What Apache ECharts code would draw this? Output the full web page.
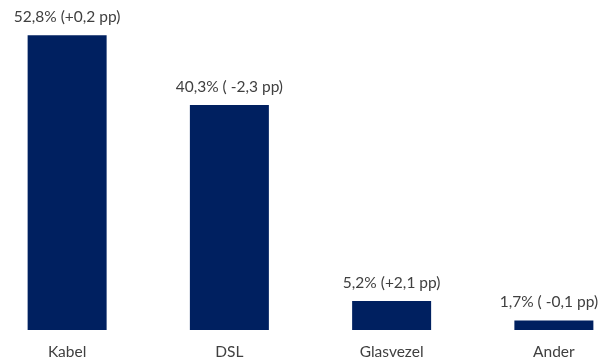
<!DOCTYPE html>
<html><head><meta charset="utf-8">
<script src="https://cdn.jsdelivr.net/npm/echarts@6/dist/echarts.min.js"></script>
<style>html,body{margin:0;padding:0;background:#fff}#c{width:600px;height:362px}</style>
</head><body><div id="c"></div>
<script>
const categories = ['Kabel', 'DSL', 'Glasvezel', 'Ander'];
const values = [52.8, 40.3, 5.2, 1.7];
const labels = ['52,8% (+0,2 pp)', '40,3% ( -2,3 pp)', '5,2% (+2,1 pp)', '1,7% ( -0,1 pp)'];

const chart = echarts.init(document.getElementById('c'), null, {renderer: 'canvas'});
chart.setOption({
  animation: false,
  grid: {left: -14, width: 649, top: 23, bottom: 32, containLabel: false, outerBoundsMode: 'none'},
  xAxis: {
    type: 'category', data: categories,
    axisLine: {show: false}, axisTick: {show: false},
    axisLabel: {color: '#404040', fontFamily: 'Lato', fontSize: 15.5, margin: 14}
  },
  yAxis: {type: 'value', min: 0, max: 55, show: false, splitLine: {show: false}},
  series: [{
    type: 'bar', barWidth: 79,
    data: values.map((v, i) => i === values.length - 1 ? {value: v, label: {offset: [-5, -1]}} : v),
    itemStyle: {color: '#002060'},
    label: {
      show: true, position: 'top', distance: 10,
      color: '#404040', fontFamily: 'Lato', fontSize: 15.5,
      formatter: p => labels[p.dataIndex]
    }
  }]
});
</script></body></html>
